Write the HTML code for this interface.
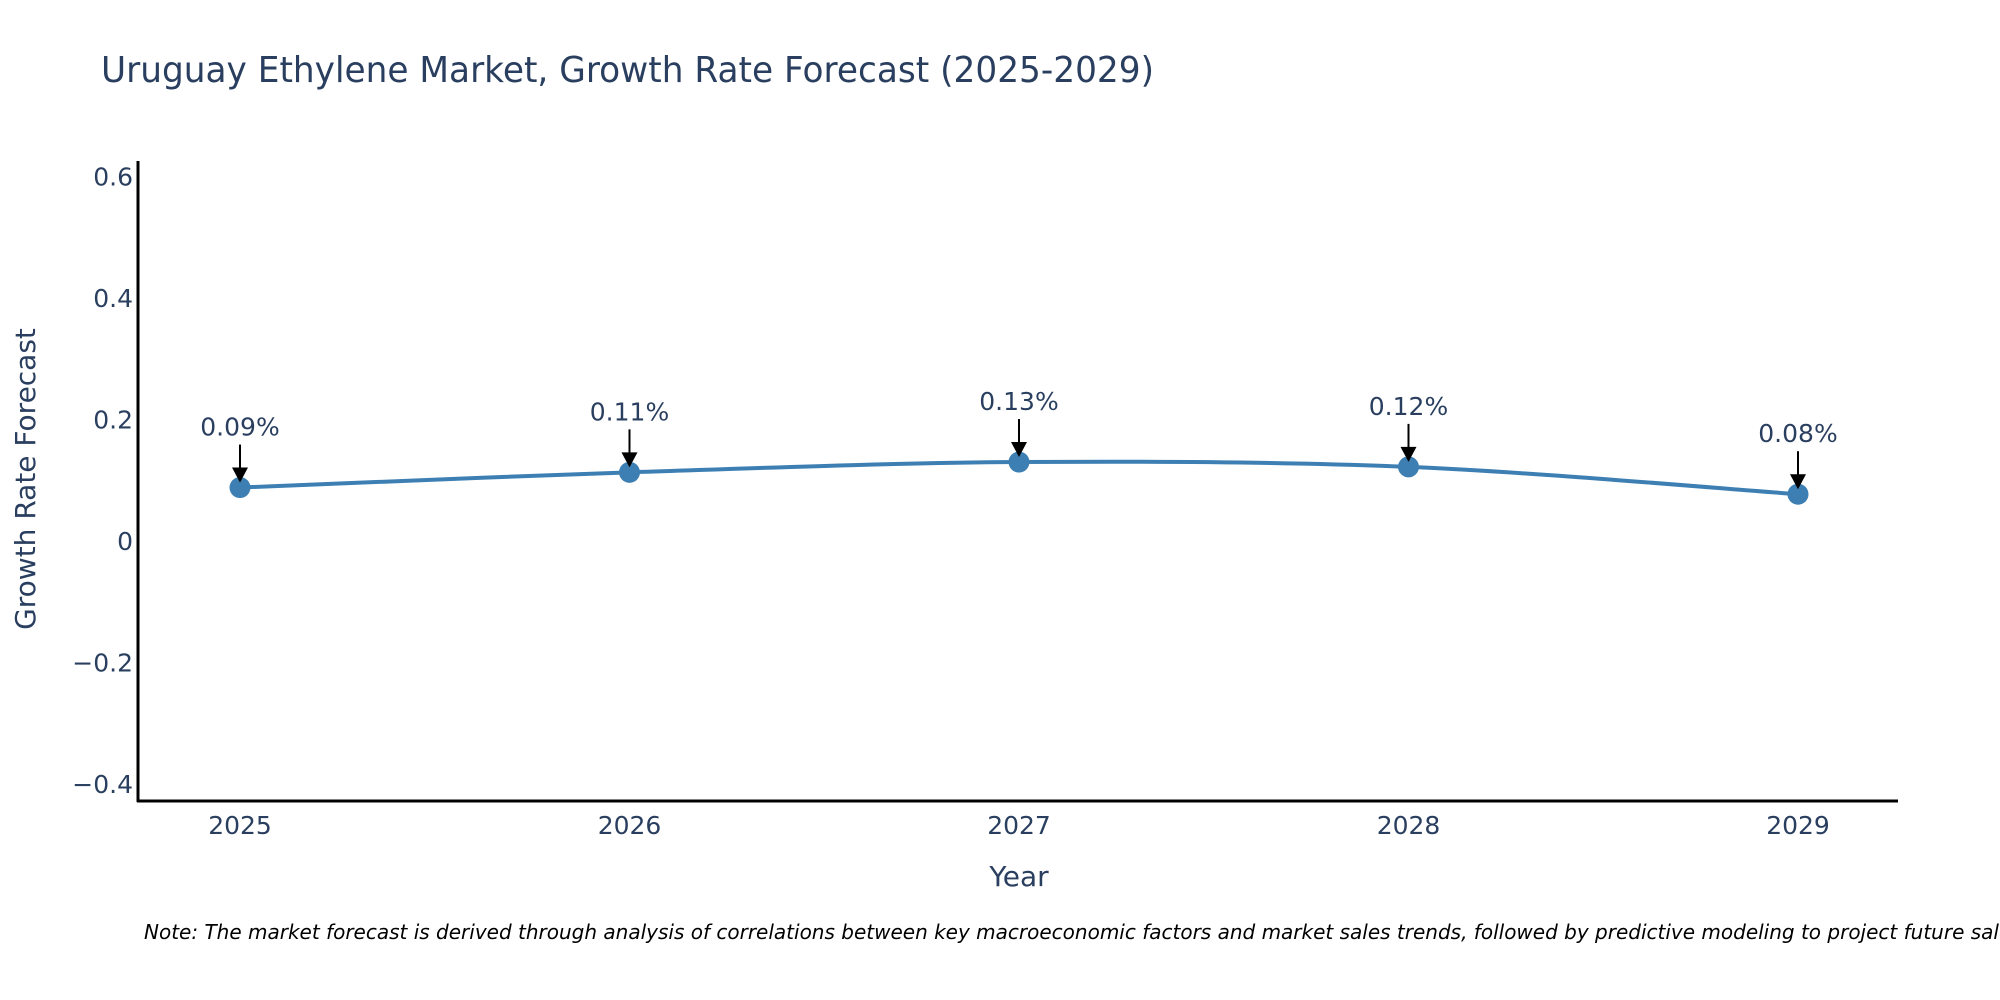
<!DOCTYPE html>
<html><head><meta charset="utf-8"><style>
html,body{margin:0;padding:0;background:#fff;}
svg{display:block;font-family:"DejaVu Sans","Liberation Sans",sans-serif;}
</style></head><body>
<svg id="chart" width="2000" height="1000" viewBox="0 0 2000 1000">
<text x="101" y="82" font-size="36" fill="#2a3f5f" textLength="1053" lengthAdjust="spacingAndGlyphs">Uruguay Ethylene Market, Growth Rate Forecast (2025-2029)</text>
<g id="yticks"></g>
<g id="xticks"></g>
<line x1="138" y1="161" x2="138" y2="802" stroke="#000" stroke-width="3"/>
<line x1="137" y1="801" x2="1898" y2="801" stroke="#000" stroke-width="3"/>
<text transform="translate(35,479) rotate(-90)" text-anchor="middle" font-size="28" fill="#2a3f5f">Growth Rate Forecast</text>
<text x="1019" y="886" text-anchor="middle" font-size="28" fill="#2a3f5f">Year</text>
<g id="series"></g>
<g id="annots"></g>
<text x="144" y="939" font-size="20" font-style="italic" fill="#000">Note: The market forecast is derived through analysis of correlations between key macroeconomic factors and market sales trends, followed by predictive modeling to project future sales.</text>
</svg>
<script>
const years = [2025, 2026, 2027, 2028, 2029];
const growth = [0.088, 0.113, 0.13, 0.122, 0.077];
const labels = ["0.09%", "0.11%", "0.13%", "0.12%", "0.08%"];
const yTicks = [0.6, 0.4, 0.2, 0, -0.2, -0.4];
const yTickLabels = ["0.6", "0.4", "0.2", "0", "\u22120.2", "\u22120.4"];

const NS = "http://www.w3.org/2000/svg";
function xs(v){ return 240 + (v - 2025) * (1798 - 240) / 4; }
function ys(v){ return 541 - v * 607.5; }
function mk(tag, attrs, parent){
  const e = document.createElementNS(NS, tag);
  for (const k in attrs) e.setAttribute(k, attrs[k]);
  parent.appendChild(e);
  return e;
}
const yt = document.getElementById('yticks');
yTicks.forEach((t, i) => {
  const e = mk('text', {x: 133, y: ys(t) + 9, 'text-anchor': 'end', 'font-size': 25, fill: '#2a3f5f'}, yt);
  
  
  e.textContent = yTickLabels[i];
});
const xt = document.getElementById('xticks');
years.forEach(y => {
  const e = mk('text', {x: xs(y), y: 834, 'text-anchor': 'middle', 'font-size': 25, fill: '#2a3f5f'}, xt);
  
  
  e.textContent = String(y);
});
const pts = years.map((y, i) => [xs(y), ys(growth[i])]);
let d = 'M' + pts[0][0] + ',' + pts[0][1];
const s = 0.5;
for (let i = 0; i < pts.length - 1; i++) {
  const p0 = pts[Math.max(0, i - 1)], p1 = pts[i], p2 = pts[i + 1], p3 = pts[Math.min(pts.length - 1, i + 2)];
  const c1 = [p1[0] + (p2[0] - p0[0]) * s / 3, p1[1] + (p2[1] - p0[1]) * s / 3];
  const c2 = [p2[0] - (p3[0] - p1[0]) * s / 3, p2[1] - (p3[1] - p1[1]) * s / 3];
  d += ' C' + c1.join(',') + ' ' + c2.join(',') + ' ' + p2.join(',');
}
const ser = document.getElementById('series');
const line = mk('path', {d: d, fill: 'none', stroke: '#3d7fb3', 'stroke-width': 4}, ser);


pts.forEach(p => {
  const c = mk('circle', {cx: p[0], cy: p[1], r: 10.5, fill: '#3d7fb3'}, ser);
  
  
});
const an = document.getElementById('annots');
pts.forEach((p, i) => {
  const g = mk('g', {}, an);
  
  
  mk('line', {x1: p[0], y1: p[1] - 43, x2: p[0], y2: p[1] - 18, stroke: '#000', 'stroke-width': 2}, g);
  mk('path', {d: `M${p[0]-8},${p[1]-20} L${p[0]+8},${p[1]-20} L${p[0]},${p[1]-5} Z`, fill: '#000'}, g);
  const t = mk('text', {x: p[0], y: p[1] - 52, 'text-anchor': 'middle', 'font-size': 25, fill: '#2a3f5f'}, g);
  
  
  t.textContent = labels[i];
});
</script>
</body></html>
